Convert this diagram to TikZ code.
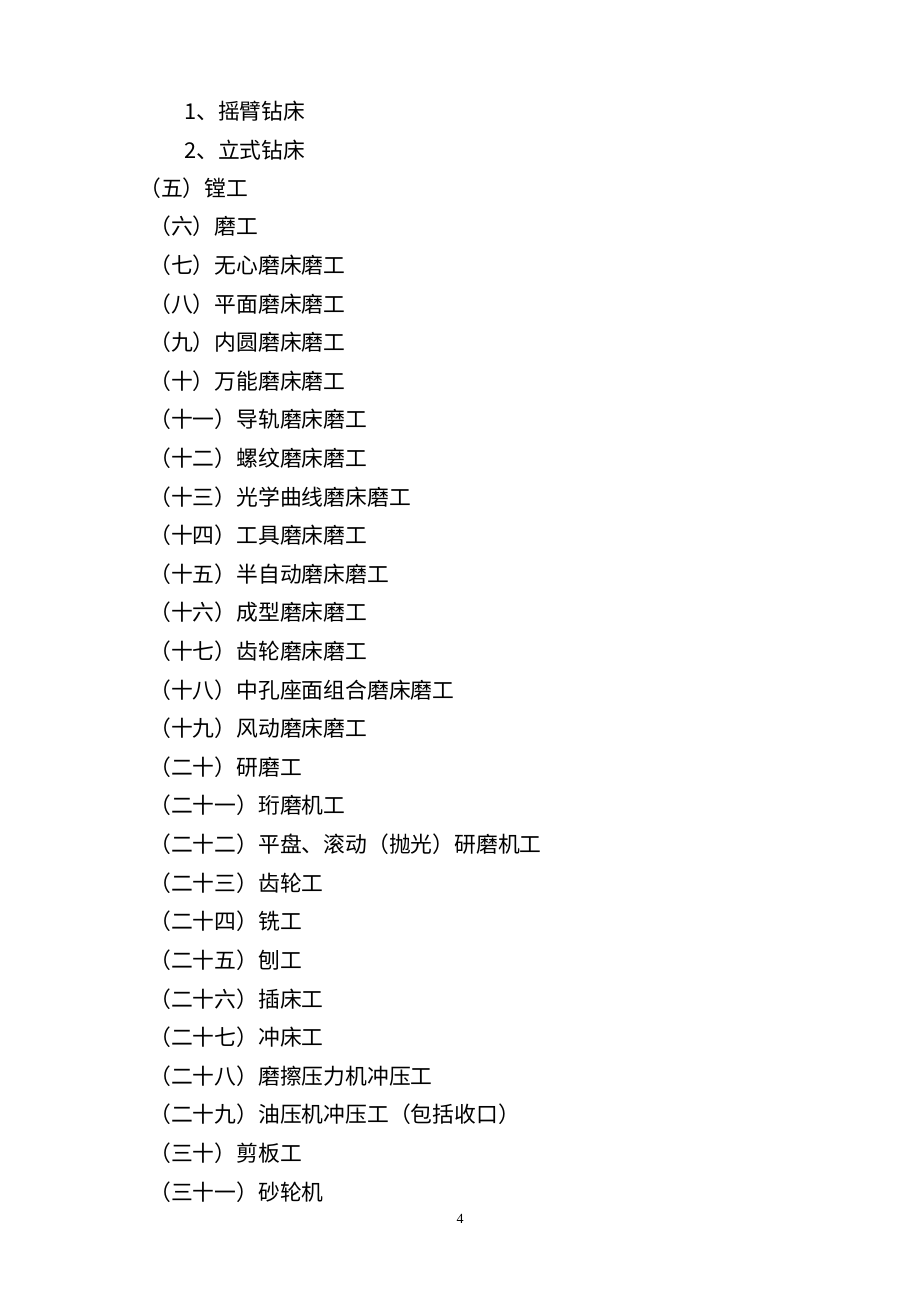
\documentclass[tikz,border=0pt]{standalone}
\usepackage{fontspec}
\usepackage{tikz}
\newfontfamily\cjk[Kerning=Off]{Noto Sans CJK SC}
\newfontfamily\pagefont{Liberation Serif}

\tikzset{
  item/.style={anchor=base west, inner sep=0pt, font=\cjk\fontsize{21.8}{21.8}\selectfont},
  pagenum/.style={anchor=base, inner sep=0pt, font=\pagefont\fontsize{14}{14}\selectfont}
}

\begin{document}
\begin{tikzpicture}[x=1pt, y=-1pt]
        \useasboundingbox[fill=white] (0,0) rectangle (920,1302);
        % sub items of (四)
        \node[item] (s1) at (184,119) {1、摇臂钻床};
        \node[item] (s2) at (184,158) {2、立式钻床};
        \node[item] (n5) at (139,196) {（五）镗工};
        % the rest of the list
        \foreach \txt [count=\i from 4] in {（六）磨工, （七）无心磨床磨工, （八）平面磨床磨工,
            （九）内圆磨床磨工, （十）万能磨床磨工, （十一）导轨磨床磨工, （十二）螺纹磨床磨工,
            （十三）光学曲线磨床磨工, （十四）工具磨床磨工, （十五）半自动磨床磨工,
            （十六）成型磨床磨工, （十七）齿轮磨床磨工, （十八）中孔座面组合磨床磨工,
            （十九）风动磨床磨工, （二十）研磨工, （二十一）珩磨机工,
            （二十二）平盘、滚动（抛光）研磨机工, （二十三）齿轮工, （二十四）铣工,
            （二十五）刨工, （二十六）插床工, （二十七）冲床工, （二十八）磨擦压力机冲压工,
            （二十九）油压机冲压工（包括收口）, （三十）剪板工, （三十一）砂轮机}
          \node[item] (n\i) at (149,{119+(\i-1)*38.61}) {\txt};
        \node[pagenum] (page) at (460,1223) {4};
\end{tikzpicture}
\end{document}
